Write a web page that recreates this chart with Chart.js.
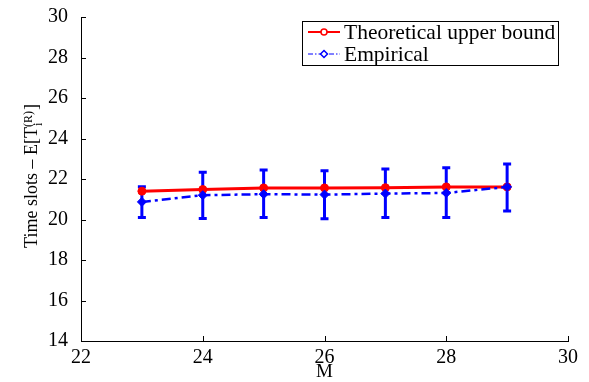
<!DOCTYPE html>
<html lang="en">
<head>
    <meta charset="UTF-8">
    <title>Time slots vs M</title>
    <style>
        body { margin: 0; background: #fff; }
        canvas { display: block; }
    </style>
    <script src="https://cdn.jsdelivr.net/npm/chart.js"></script>
</head>
<body>
    <canvas id="myChart" width="589" height="382"></canvas>

    <script>
        // Values per M
        const mValues = [23, 24, 25, 26, 27, 28, 29];
        const theoretical = [21.40, 21.48, 21.56, 21.56, 21.57, 21.61, 21.61];
        const empirical = [20.87, 21.20, 21.25, 21.23, 21.28, 21.31, 21.61];
        const errUpper = [21.62, 22.33, 22.44, 22.41, 22.49, 22.55, 22.74];
        const errLower = [20.10, 20.05, 20.10, 20.04, 20.10, 20.10, 20.42];
        const seriesNames = ['Theoretical upper bound', 'Empirical'];

        const serif = '"Liberation Serif", "Times New Roman", serif';

        // error bars, inward ticks, axis titles and the boxed legend
        const extras = {
            id: 'extras',
            beforeDatasetsDraw(chart) {
                const ctx = chart.ctx;
                const xs = chart.scales.x, ys = chart.scales.y;
                ctx.save();
                ctx.strokeStyle = '#0000ff';
                ctx.lineWidth = 3;
                mValues.forEach((m, i) => {
                    const px = xs.getPixelForValue(m);
                    const top = ys.getPixelForValue(errUpper[i]);
                    const bot = ys.getPixelForValue(errLower[i]);
                    ctx.beginPath();
                    ctx.moveTo(px, top); ctx.lineTo(px, bot);
                    ctx.moveTo(px - 4, top); ctx.lineTo(px + 4, top);
                    ctx.moveTo(px - 4, bot); ctx.lineTo(px + 4, bot);
                    ctx.stroke();
                });
                ctx.restore();
            },
            afterDraw(chart) {
                const ctx = chart.ctx;
                const area = chart.chartArea;
                const xs = chart.scales.x, ys = chart.scales.y;
                ctx.save();

                // small ticks pointing into the plot
                ctx.strokeStyle = '#000';
                ctx.lineWidth = 1;
                ctx.beginPath();
                xs.ticks.forEach(t => {
                    const px = Math.round(xs.getPixelForValue(t.value)) + 0.5;
                    ctx.moveTo(px, area.bottom);
                    ctx.lineTo(px, area.bottom - 5);
                });
                ys.ticks.forEach(t => {
                    const py = Math.round(ys.getPixelForValue(t.value)) + 0.5;
                    ctx.moveTo(area.left, py);
                    ctx.lineTo(area.left + 5, py);
                });
                ctx.stroke();

                // x title
                ctx.fillStyle = '#000';
                ctx.font = '19px ' + serif;
                ctx.textAlign = 'center';
                ctx.textBaseline = 'alphabetic';
                ctx.fillText('M', (area.left + area.right) / 2, 377);

                // y title with sub/superscript
                ctx.save();
                ctx.translate(37, 176);
                ctx.rotate(-Math.PI / 2);
                const main = 'Time slots – E[T';
                const bigFont = '18px ' + serif;
                const smallFont = '12px ' + serif;
                ctx.font = bigFont;
                const wMain = ctx.measureText(main).width;
                const wClose = ctx.measureText(']').width;
                ctx.font = smallFont;
                const wSup = ctx.measureText('(R)').width;
                const total = wMain + wSup + wClose + 1;
                let x = -total / 2;
                ctx.textAlign = 'left';
                ctx.font = bigFont;
                ctx.fillText(main, x, 0);
                x += wMain;
                ctx.font = smallFont;
                ctx.fillText('i', x + 1, 5);
                ctx.fillText('(R)', x, -5);
                x += wSup + 1;
                ctx.font = bigFont;
                ctx.fillText(']', x, 0);
                ctx.restore();

                // legend box
                const lx = 302, ly = 21, lw = 256, lh = 44;
                ctx.fillStyle = '#fff';
                ctx.fillRect(lx, ly, lw, lh);
                ctx.strokeStyle = '#000';
                ctx.lineWidth = 1;
                ctx.strokeRect(lx + 0.5, ly + 0.5, lw, lh);

                const rows = [
                    { y: 32, color: '#ff0000', dash: [], width: 2, shape: 'circle' },
                    { y: 54, color: '#0000ff', dash: [5, 2, 1.5, 2], width: 1, shape: 'diamond' }
                ];
                rows.forEach((r, i) => {
                    ctx.strokeStyle = r.color;
                    ctx.lineWidth = r.width;
                    ctx.setLineDash(r.dash);
                    ctx.beginPath();
                    ctx.moveTo(308, r.y); ctx.lineTo(340, r.y);
                    ctx.stroke();
                    ctx.setLineDash([]);
                    ctx.fillStyle = '#fff';
                    ctx.lineWidth = 1.5;
                    ctx.beginPath();
                    if (r.shape === 'circle') {
                        ctx.arc(324, r.y, 3, 0, Math.PI * 2);
                    } else {
                        ctx.moveTo(324, r.y - 3.5); ctx.lineTo(327.5, r.y);
                        ctx.lineTo(324, r.y + 3.5); ctx.lineTo(320.5, r.y);
                        ctx.closePath();
                    }
                    ctx.fill();
                    ctx.stroke();
                    ctx.fillStyle = '#000';
                    ctx.font = '21.5px ' + serif;
                    ctx.textAlign = 'left';
                    ctx.textBaseline = 'middle';
                    ctx.fillText(seriesNames[i], 344, r.y + 1);
                });
                ctx.restore();
            }
        };

        const ctx = document.getElementById('myChart').getContext('2d');
        const myChart = new Chart(ctx, {
            type: 'line',
            data: {
                datasets: [{
                    label: seriesNames[0],
                    data: mValues.map((m, i) => ({ x: m, y: theoretical[i] })),
                    borderColor: '#ff0000',
                    backgroundColor: '#ff0000',
                    borderWidth: 3,
                    pointStyle: 'circle',
                    pointRadius: 4,
                    pointBorderWidth: 1,
                    order: 2
                }, {
                    label: seriesNames[1],
                    data: mValues.map((m, i) => ({ x: m, y: empirical[i] })),
                    borderColor: '#0000ff',
                    backgroundColor: '#0000ff',
                    borderWidth: 2.5,
                    borderDash: [9, 4, 3, 4],
                    pointStyle: 'rectRot',
                    pointRadius: 4.5,
                    pointBorderWidth: 1,
                    order: 1
                }]
            },
            options: {
                responsive: false,
                animation: false,
                layout: { padding: { top: 15, right: 21, left: 0, bottom: 0 } },
                plugins: {
                    legend: { display: false },
                    tooltip: { enabled: false }
                },
                scales: {
                    x: {
                        type: 'linear',
                        min: 22,
                        max: 30,
                        grid: { display: false },
                        border: { color: '#000', width: 1 },
                        ticks: {
                            stepSize: 2,
                            color: '#000',
                            padding: -3,
                            font: { family: serif, size: 20 }
                        },
                        afterFit(scale) { scale.height = 41; }
                    },
                    y: {
                        min: 14,
                        max: 30,
                        grid: { display: false },
                        border: { color: '#000', width: 1 },
                        ticks: {
                            stepSize: 2,
                            color: '#000',
                            padding: 5,
                            font: { family: serif, size: 20 }
                        },
                        afterFit(scale) { scale.width = 81; }
                    }
                }
            },
            plugins: [extras]
        });
    </script>
</body>
</html>
